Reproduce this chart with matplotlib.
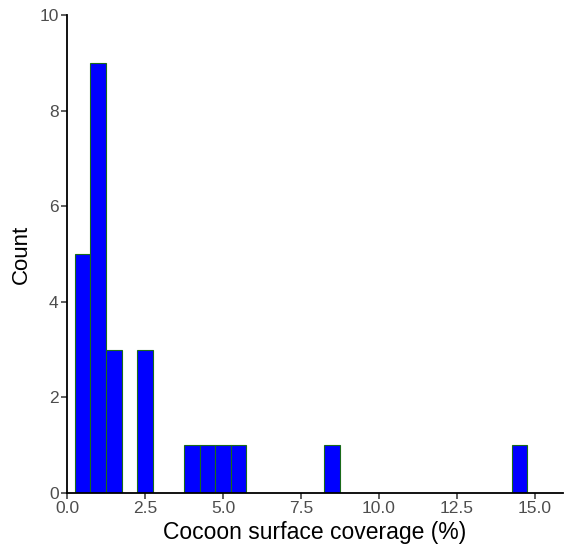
import matplotlib.pyplot as plt
import numpy as np

plt.rcParams['font.family'] = ['Liberation Sans', 'DejaVu Sans']

# histogram bins (width 0.5) and counts
bin_left = [0.25, 0.75, 1.25, 2.25, 3.75, 4.25, 4.75, 5.25, 8.25, 14.25]
counts = [5, 9, 3, 3, 1, 1, 1, 1, 1, 1]
bin_width = 0.5

x_ticks = [0.0, 2.5, 5.0, 7.5, 10.0, 12.5, 15.0]
y_ticks = [0, 2, 4, 6, 8, 10]

fig = plt.figure(figsize=(5.64, 5.48), dpi=100)
ax = fig.add_axes([67/564, 55/548, (563-67)/564, (493-15)/548])

ax.bar(bin_left, counts, width=bin_width, align='edge',
       color='#0000FF', edgecolor='#1a6b1a', linewidth=0.8)

ax.set_xlim(0, 15.9)
ax.set_ylim(0, 10)
ax.set_xticks(x_ticks)
ax.set_xticklabels([f'{t:.1f}' for t in x_ticks])
ax.set_yticks(y_ticks)

for side in ['top', 'right']:
    ax.spines[side].set_visible(False)
for side in ['left', 'bottom']:
    ax.spines[side].set_linewidth(1.3)
    ax.spines[side].set_color('black')

ax.tick_params(axis='both', direction='out', length=4, width=1.1,
               color='#333333', labelcolor='#4D4D4D', labelsize=12.5, pad=2)

ax.set_xlabel('Cocoon surface coverage (%)', fontsize=16.5, color='black', labelpad=3)
ax.set_ylabel('Count', fontsize=16, color='black', labelpad=5)

fig.savefig('out.png', dpi=100)
